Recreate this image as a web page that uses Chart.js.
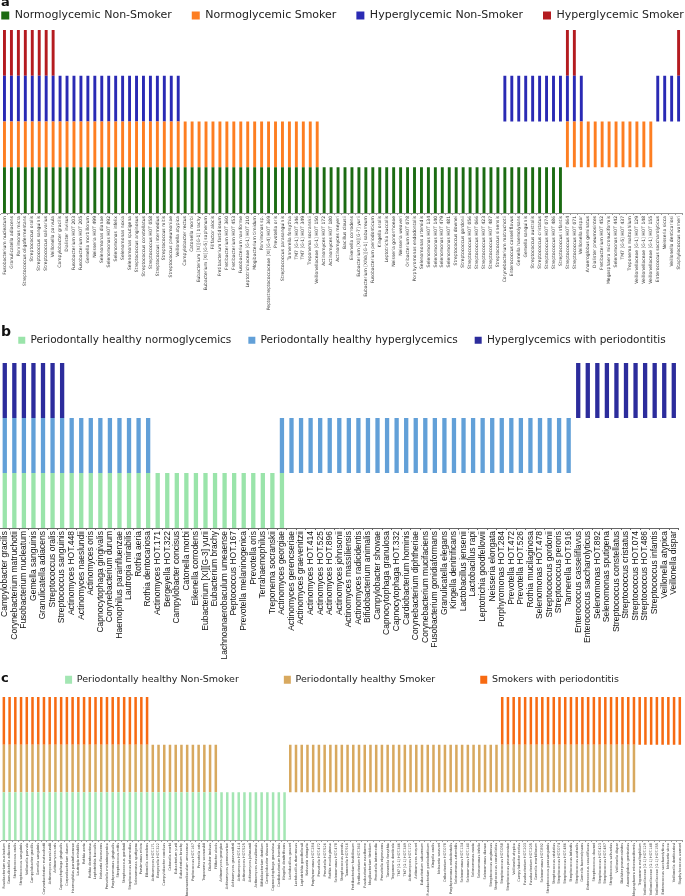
<!DOCTYPE html>
<html><head><meta charset="utf-8">
<script src="https://cdn.jsdelivr.net/npm/chart.js@4.4.1/dist/chart.umd.min.js"></script>
<style>
html,body{margin:0;padding:0;background:#fff;width:685px;height:896px;overflow:hidden;position:relative;}
canvas{position:absolute;left:0;}
.tag{position:absolute;font-family:"DejaVu Sans",sans-serif;font-weight:bold;color:#111;line-height:1;}
</style></head><body>
<canvas id="ca" width="685" height="328" style="top:-10px"></canvas>
<canvas id="cb" width="685" height="344" style="top:318px"></canvas>
<canvas id="cc" width="685" height="266" style="top:630px"></canvas>
<div class="tag" style="left:1px;top:-5px;font-size:13px">a</div>
<div class="tag" style="left:1px;top:324px;font-size:14px">b</div>
<div class="tag" style="left:1px;top:671px;font-size:13px">c</div>
<script>
// ---------- Panel a ----------
const speciesA = [
 "Fusobacterium nucleatum","Granulicatella adiacens","Parvimonas micra","Streptococcus oligofermentans","Streptococcus oralis",
 "Streptococcus sanguinis","Streptococcus salivarius","Veillonella parvula","Campylobacter gracilis","Dialister invisus",
 "Fusobacterium HOT 203","Fusobacterium HOT 205","Gemella morbillorum","Neisseria HOT 499","Selenomonas dianae",
 "Selenomonas HOT 892","Selenomonas infelix","Selenomonas noxia","Selenomonas sputigena","Streptococcus anginosus",
 "Streptococcus constellatus","Streptococcus HOT 058","Streptococcus intermedius","Streptococcus mitis","Streptococcus pneumoniae",
 "Veillonella atypica","Campylobacter rectus","Catonella morbi","Eubacterium [XI][G-1] brachy","Eubacterium [XI][G-5] saphenum",
 "Filifactor alocis","Fretibacterium fastidiosum","Fretibacterium HOT 360","Fretibacterium HOT 453","Fusobacterium naviforme",
 "Leptotrichiaceae [G-1] HOT 210","Mogibacterium timidum","Parvimonas sp.","Peptostreptococcaceae [XI][G-4] HOT 369","Prevotella oris",
 "Streptococcus parasanguinis","Tannerella forsythia","TM7 [G-1] HOT 346","TM7 [G-1] HOT 349","Treponema socranskii",
 "Veillonellaceae [G-1] HOT 150","Actinomyces HOT 172","Actinomyces HOT 180","Actinomyces meyeri","Bacillus clausii",
 "Eikenella corrodens","Eubacterium [XI][G-7] yurii","Eubacterium [XIVa][G-1] saburreum","Fusobacterium periodonticum","Kingella oralis",
 "Leptotrichia buccalis","Neisseria gonorrhoeae","Neisseria weaveri","Oribacterium HOT 078","Porphyromonas endodontalis",
 "Selenomonas artemidis","Selenomonas HOT 134","Selenomonas HOT 140","Selenomonas HOT 479","Selenomonas HOT 481",
 "Streptococcus downei","Streptococcus gordonii","Streptococcus HOT 056","Streptococcus HOT 066","Streptococcus HOT 423",
 "Streptococcus HOT 487","Streptococcus sinensis","Corynebacterium matruchotii","Enterococcus casseliflavus","Gemella haemolysans",
 "Gemella sanguinis","Streptococcus australis","Streptococcus cristatus","Streptococcus HOT 074","Streptococcus HOT 486",
 "Streptococcus infantis","Streptococcus HOT 064","Streptococcus HOT 071","Veillonella dispar","Anaeroglobus geminatus",
 "Dialister pneumosintes","Fretibacterium HOT 452","Megasphaera micronuciformis","Selenomonas HOT 442","TM7 [G-5] HOT 437",
 "Treponema maltophilum","Veillonellaceae [G-1] HOT 129","Veillonellaceae [G-1] HOT 148","Veillonellaceae [G-1] HOT 155","Enterococcus saccharolyticus",
 "Neisseria sicca","Veillonella denticariosi","Staphylococcus warneri"
];
const normoNonSmokerA = [
 1,1,1,1,1,1,1,1,1,1, 1,1,1,1,1,1,1,1,1,1, 1,1,1,1,1,1,1,1,1,1, 1,1,1,1,1,1,1,1,1,1,
 1,1,1,1,1,1,1,1,1,1, 1,1,1,1,1,1,1,1,1,1, 1,1,1,1,1,1,1,1,1,1, 1,1,1,1,1,1,1,1,1,1,
 1,0,0,0,0,0,0,0,0,0, 0,0,0,0,0,0,0,0
];
const normoSmokerA = [
 1,1,1,1,1,1,1,1,1,1, 1,1,1,1,1,1,1,1,1,1, 1,1,1,1,1,1,1,1,1,1, 1,1,1,1,1,1,1,1,1,1,
 1,1,1,1,1,1,0,0,0,0, 0,0,0,0,0,0,0,0,0,0, 0,0,0,0,0,0,0,0,0,0, 0,0,0,0,0,0,0,0,0,0,
 0,1,1,1,1,1,1,1,1,1, 1,1,1,1,0,0,0,0
];
const hyperNonSmokerA = [
 1,1,1,1,1,1,1,1,1,1, 1,1,1,1,1,1,1,1,1,1, 1,1,1,1,1,1,0,0,0,0, 0,0,0,0,0,0,0,0,0,0,
 0,0,0,0,0,0,0,0,0,0, 0,0,0,0,0,0,0,0,0,0, 0,0,0,0,0,0,0,0,0,0, 0,0,1,1,1,1,1,1,1,1,
 1,1,1,1,0,0,0,0,0,0, 0,0,0,0,1,1,1,1
];
const hyperSmokerA = [
 1,1,1,1,1,1,1,1,0,0, 0,0,0,0,0,0,0,0,0,0, 0,0,0,0,0,0,0,0,0,0, 0,0,0,0,0,0,0,0,0,0,
 0,0,0,0,0,0,0,0,0,0, 0,0,0,0,0,0,0,0,0,0, 0,0,0,0,0,0,0,0,0,0, 0,0,0,0,0,0,0,0,0,0,
 0,1,1,0,0,0,0,0,0,0, 0,0,0,0,0,0,0,1
];

// ---------- Panel b ----------
const speciesB = [
 "Campylobacter gracilis","Corynebacterium matruchotii","Fusobacterium nucleatum","Gemella sanguinis","Granulicatella adiacens",
 "Streptococcus oralis","Streptococcus sanguinis","Actinomyces HOT.448","Actinomyces naeslundii","Actinomyces oris",
 "Capnocytophaga gingivalis","Corynebacterium durum","Haemophilus parainfluenzae","Lautropia mirabilis","Rothia aeria",
 "Rothia dentocariosa","Actinomyces HOT.171","Bergeyella HOT.322","Campylobacter concisus","Catonella morbi",
 "Eikenella corrodens","Eubacterium [XI][G-3] yurii","Eubacterium brachy","Lachnoanaerobaculum umeaense","Peptococcus HOT.167",
 "Prevotella melaninogenica","Prevotella oris","Terrahaemophilus","Treponema socranskii","Actinomyces georgiae",
 "Actinomyces gerencseriae","Actinomyces graevenitzii","Actinomyces HOT.414","Actinomyces HOT.525","Actinomyces HOT.896",
 "Actinomyces johnsonii","Actinomyces massiliensis","Actinomyces radicidentis","Bifidobacterium animalis","Campylobacter showae",
 "Capnocytophaga granulosa","Capnocytophaga HOT.332","Cardiobacterium hominis","Corynebacterium diphtheriae","Corynebacterium mucifaciens",
 "Fusobacterium gonidiaformans","Granulicatella elegans","Kingella denitrificans","Lactobacillus jensenii","Lactobacillus rapi",
 "Leptotrichia goodfellowii","Neisseria elongata","Porphyromonas HOT.284","Prevotella HOT.472","Prevotella HOT.526",
 "Rothia mucilaginosa","Selenomonas HOT.478","Streptococcus gordonii","Streptococcus peroris","Tannerella HOT.916",
 "Enterococcus casseliflavus","Enterococcus saccharolyticus","Selenomonas HOT.892","Selenomonas sputigena","Streptococcus constellatus",
 "Streptococcus cristatus","Streptococcus HOT.074","Streptococcus HOT.486","Streptococcus infantis","Veillonella atypica",
 "Veillonella dispar"
];
const healthyNormoB = [
 1,1,1,1,1,1,1,1,1,1, 1,1,1,1,1,1,1,1,1,1, 1,1,1,1,1,1,1,1,1,1,
 0,0,0,0,0,0,0,0,0,0, 0,0,0,0,0,0,0,0,0,0, 0,0,0,0,0,0,0,0,0,0, 0,0,0,0,0,0,0,0,0,0, 0
];
const healthyHyperB = [
 1,1,1,1,1,1,1,1,1,1, 1,1,1,1,1,1,0,0,0,0, 0,0,0,0,0,0,0,0,0,1,
 1,1,1,1,1,1,1,1,1,1, 1,1,1,1,1,1,1,1,1,1, 1,1,1,1,1,1,1,1,1,1, 0,0,0,0,0,0,0,0,0,0, 0
];
const hyperPerioB = [
 1,1,1,1,1,1,1,0,0,0, 0,0,0,0,0,0,0,0,0,0, 0,0,0,0,0,0,0,0,0,0,
 0,0,0,0,0,0,0,0,0,0, 0,0,0,0,0,0,0,0,0,0, 0,0,0,0,0,0,0,0,0,0, 1,1,1,1,1,1,1,1,1,1, 1
];

// ---------- Panel c ----------
const speciesC = [
 "Fusobacterium nucleatum","Granulicatella adiacens","Streptococcus oralis","Streptococcus sanguinis","Veillonella parvula",
 "Campylobacter gracilis","Gemella sanguinis","Corynebacterium matruchotii","Actinomyces naeslundii","Actinomyces oris",
 "Capnocytophaga gingivalis","Corynebacterium durum","Haemophilus parainfluenzae","Lautropia mirabilis","Rothia aeria",
 "Rothia dentocariosa","Leptotrichia buccalis","Neisseria flavescens","Prevotella melaninogenica","Porphyromonas gingivalis",
 "Streptococcus mitis","Streptococcus gordonii","Streptococcus intermedius","Selenomonas sputigena","Parvimonas micra",
 "Eikenella corrodens","Actinomyces HOT.171","Bergeyella HOT.322","Campylobacter concisus","Catonella morbi",
 "Eubacterium yurii","Eubacterium brachy","Lachnoanaerobaculum umeaense","Peptococcus HOT.167","Prevotella oris",
 "Treponema socranskii","Dialister invisus","Filifactor alocis","Actinomyces georgiae","Actinomyces gerencseriae",
 "Actinomyces graevenitzii","Actinomyces HOT.414","Actinomyces HOT.525","Actinomyces johnsonii","Actinomyces massiliensis",
 "Bifidobacterium dentium","Campylobacter showae","Capnocytophaga granulosa","Cardiobacterium hominis","Kingella denitrificans",
 "Lactobacillus gasseri","Lactobacillus rhamnosus","Leptotrichia goodfellowii","Neisseria elongata","Porphyromonas HOT.284",
 "Prevotella HOT.472","Prevotella HOT.526","Rothia mucilaginosa","Selenomonas HOT.478","Streptococcus peroris",
 "Tannerella HOT.916","Fretibacterium fastidiosum","Fretibacterium HOT.360","Fusobacterium naviforme","Mogibacterium timidum",
 "Prevotella intermedia","Prevotella nigrescens","Tannerella forsythia","Treponema denticola","TM7 [G-1] HOT.346",
 "TM7 [G-1] HOT.349","Actinomyces HOT.172","Actinomyces meyeri","Eubacterium saburreum","Fusobacterium periodonticum",
 "Kingella oralis","Neisseria weaveri","Oribacterium HOT.078","Porphyromonas endodontalis","Selenomonas artemidis",
 "Selenomonas HOT.134","Selenomonas HOT.140","Selenomonas noxia","Selenomonas infelix","Selenomonas dianae",
 "Streptococcus anginosus","Streptococcus constellatus","Streptococcus HOT.058","Streptococcus pneumoniae","Veillonella atypica",
 "Campylobacter rectus","Fusobacterium HOT.203","Fusobacterium HOT.205","Gemella morbillorum","Selenomonas HOT.892",
 "Streptococcus parasanguinis","Streptococcus cristatus","Streptococcus HOT.074","Streptococcus HOT.486","Streptococcus infantis",
 "Streptococcus australis","Gemella haemolysans","Enterococcus casseliflavus","Streptococcus downei","Streptococcus HOT.423",
 "Streptococcus HOT.487","Streptococcus salivarius","Veillonella dispar","Dialister pneumosintes","Anaeroglobus geminatus",
 "Megasphaera micronuciformis","Treponema maltophilum","Veillonellaceae [G-1] HOT.129","Veillonellaceae [G-1] HOT.148","Veillonellaceae [G-1] HOT.155",
 "Enterococcus saccharolyticus","Neisseria sicca","Veillonella denticariosi","Staphylococcus warneri"
];
const healthyNonSmokerC = [
 1,1,1,1,1,1,1,1,1,1, 1,1,1,1,1,1,1,1,1,1, 1,1,1,1,1,1,1,1,1,1, 1,1,1,1,1,1,1,1,1,1,
 1,1,1,1,1,1,1,1,1,1, 0,0,0,0,0,0,0,0,0,0, 0,0,0,0,0,0,0,0,0,0, 0,0,0,0,0,0,0,0,0,0,
 0,0,0,0,0,0,0,0,0,0, 0,0,0,0,0,0,0,0,0,0, 0,0,0,0,0,0,0,0,0,0, 0,0,0,0,0,0,0,0,0
];
const healthySmokerC = [
 1,1,1,1,1,1,1,1,1,1, 1,1,1,1,1,1,1,1,1,1, 1,1,1,1,1,1,1,1,1,1, 1,1,1,1,1,1,1,1,0,0,
 0,0,0,0,0,0,0,0,0,0, 1,1,1,1,1,1,1,1,1,1, 1,1,1,1,1,1,1,1,1,1, 1,1,1,1,1,1,1,1,1,1,
 1,1,1,1,1,1,1,1,1,1, 1,1,1,1,1,1,1,1,1,1, 1,1,1,1,1,1,1,1,1,1, 1,0,0,0,0,0,0,0,0
];
const smokerPerioC = [
 1,1,1,1,1,1,1,1,1,1, 1,1,1,1,1,1,1,1,1,1, 1,1,1,1,1,1,0,0,0,0, 0,0,0,0,0,0,0,0,0,0,
 0,0,0,0,0,0,0,0,0,0, 0,0,0,0,0,0,0,0,0,0, 0,0,0,0,0,0,0,0,0,0, 0,0,0,0,0,0,0,0,0,0,
 0,0,0,0,0,0,0,1,1,1, 1,1,1,1,1,1,1,1,1,1, 1,1,1,1,1,1,1,1,1,1, 1,1,1,1,1,1,1,1,1
];

// presence -> floating band [level, level+1]
function band(values, level) { return values.map(v => v ? [level, level + 1] : null); }

// legend: keep all items on one row and set the legend box height
const legendFix = {
  id: 'legendFix',
  afterInit(chart, args, opts) {
    const lg = chart.legend;
    if (!lg) return;
    const fit = lg.fit, draw = lg._draw;
    lg.fit = function () {
      const mw = this.maxWidth;
      this.maxWidth = mw + 600;
      fit.call(this);
      this.maxWidth = mw;
      this.width = mw;
      this.height = opts.height;
    };
    lg._draw = function () {
      const l = this.left, r = this.right;
      this.left = l - 600; this.right = r + 600;
      draw.call(this);
      this.left = l; this.right = r;
    };
  }
};

function makeChart(id, cfg) {
  const ds = cfg.series.map((s, k) => ({
    label: s.label,
    data: band(s.values, k),
    backgroundColor: s.color,
    borderWidth: 0,
    grouped: false,
    barPercentage: cfg.barPct,
    categoryPercentage: 1
  }));
  return new Chart(document.getElementById(id), {
    type: 'bar',
    data: { labels: cfg.labels, datasets: ds },
    plugins: [legendFix],
    options: {
      responsive: false,
      animation: false,
      devicePixelRatio: 1,
      layout: { padding: cfg.pad },
      plugins: {
        legendFix: { height: cfg.legendH },
        tooltip: { enabled: false },
        legend: {
          display: true,
          position: 'top',
          align: 'center',
          labels: {
            boxWidth: cfg.box[0], boxHeight: cfg.box[1],
            padding: cfg.legendPad,
            color: '#222',
            font: { family: 'DejaVu Sans', size: cfg.legendFont }
          }
        }
      },
      scales: {
        y: { display: false, min: 0, max: cfg.series.length, stacked: false },
        x: {
          type: 'category',
          stacked: false,
          afterFit: (s) => { s.height = cfg.axisH; },
          border: { display: true, color: cfg.axisColor, width: 1 },
          grid: { display: true, drawOnChartArea: false, drawTicks: true, tickLength: 2, color: cfg.axisColor },
          ticks: {
            autoSkip: false, maxRotation: 90, minRotation: 90, padding: 1,
            color: cfg.tickColor,
            font: { family: cfg.tickFamily, size: cfg.tickFont }
          }
        }
      }
    }
  });
}

makeChart('ca', {
  labels: speciesA,
  series: [
    { label: 'Normoglycemic Non-Smoker', values: normoNonSmokerA, color: '#1b6b12' },
    { label: 'Normoglycemic Smoker', values: normoSmokerA, color: '#fd7e22' },
    { label: 'Hyperglycemic Non-Smoker', values: hyperNonSmokerA, color: '#2a2ab4' },
    { label: 'Hyperglycemic Smoker', values: hyperSmokerA, color: '#b41b20' }
  ],
  barPct: 0.42, pad: { left: 1, right: 1, top: 0, bottom: 0 },
  legendH: 40, legendPad: 20, legendFont: 11, box: [8, 8],
  axisH: 105, axisColor: '#999', tickColor: '#333', tickFamily: 'DejaVu Sans', tickFont: 4.5
});

makeChart('cb', {
  labels: speciesB,
  series: [
    { label: 'Periodontally healthy normoglycemics', values: healthyNormoB, color: '#9ae4aa' },
    { label: 'Periodontally healthy hyperglycemics', values: healthyHyperB, color: '#62a0d8' },
    { label: 'Hyperglycemics with periodontitis', values: hyperPerioB, color: '#2c2c9c' }
  ],
  barPct: 0.45, pad: { left: 0, right: 1, top: 0, bottom: 0 },
  legendH: 45, legendPad: 17, legendFont: 10.5, box: [7, 7],
  axisH: 134, axisColor: '#666', tickColor: '#111', tickFamily: 'Liberation Sans', tickFont: 8.5
});

makeChart('cc', {
  labels: speciesC,
  series: [
    { label: 'Periodontally healthy Non-Smoker', values: healthyNonSmokerC, color: '#a3e6b3' },
    { label: 'Periodontally healthy Smoker', values: healthySmokerC, color: '#d8a95f' },
    { label: 'Smokers with periodontitis', values: smokerPerioC, color: '#f76a12' }
  ],
  barPct: 0.44, pad: { left: 1, right: 2, top: 0, bottom: 0 },
  legendH: 67, legendPad: 45, legendFont: 9.5, box: [7, 8],
  axisH: 56, axisColor: '#999', tickColor: '#444', tickFamily: 'DejaVu Sans', tickFont: 3.5
});
</script>
</body></html>
